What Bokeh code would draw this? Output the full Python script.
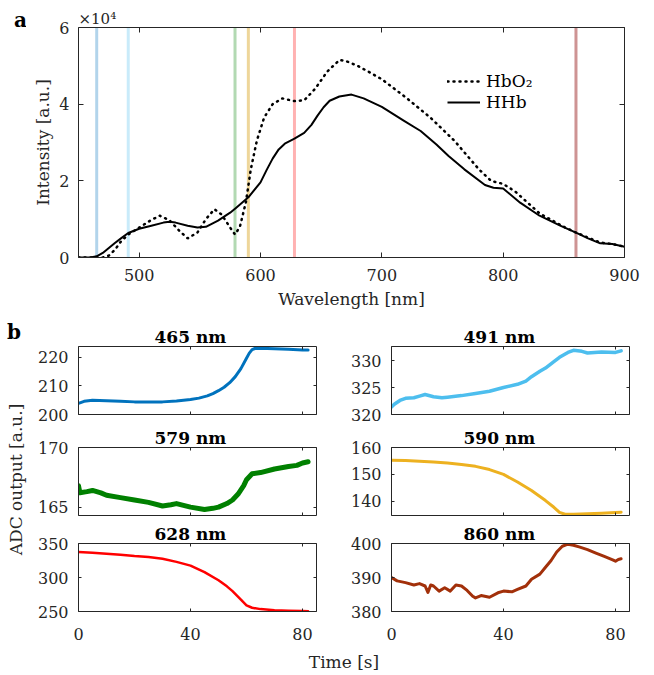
import math
from bokeh.plotting import figure
from bokeh.models import (Range1d, LinearAxis, FixedTicker, Span, Label, Legend, LegendItem)
from bokeh.layouts import column, row
from bokeh.embed import file_html
from bokeh.resources import INLINE

FONT = "DejaVu Serif"
AX = "#262626"

# ---------------- data: panel a ----------------
wl_hbo2 = [450, 470, 475, 480, 485, 491, 500, 510, 517, 525, 533, 540, 548, 555, 562, 568, 575, 579,
           583, 588, 592, 597, 603, 610, 618, 628, 636, 645, 655, 665, 670, 680, 690, 700, 720, 740,
           760, 780, 790, 800, 810, 830, 850, 860, 880, 890, 900]
hbo2 = [0, 0, 500, 2000, 4200, 6000, 7800, 9800, 10900, 9700, 7000, 5000, 6500, 10000, 12600, 11200,
        7800, 6000, 8000, 14500, 23000, 30500, 36500, 40000, 41500, 40800, 41000, 44000, 48500, 51500,
        51300, 50000, 48300, 46500, 41700, 36500, 30400, 23000, 20000, 19200, 17200, 11500, 8000, 6500,
        3900, 3500, 2800]

wl_hhb = [450, 460, 465, 470, 475, 480, 485, 491, 500, 510, 520, 525, 530, 540, 548, 555, 565, 575,
          580, 590, 600, 605, 610, 615, 620, 628, 636, 642, 647, 652, 657, 665, 675, 685, 700, 718,
          732, 745, 755, 768, 785, 792, 800, 814, 830, 847, 860, 870, 880, 890, 900]
hhb = [0, 0, 300, 1200, 2500, 3800, 5000, 6400, 7500, 8300, 9100, 9300, 9100, 8300, 7800, 8000, 9600,
       11700, 13000, 15700, 19600, 22800, 25800, 28200, 29700, 31000, 32500, 34600, 37000, 39200, 40900,
       42000, 42500, 41500, 39300, 35700, 33000, 29500, 26500, 23000, 18900, 18200, 18000, 14300, 10900,
       8300, 6500, 5000, 3700, 3500, 2800]

led_nm = [465, 491, 579, 590, 628, 860]
led_colors = ["#0072BD", "#4DBEEE", "#008000", "#EDB120", "#FF0000", "#A2300A"]
span_colors = ["#0072BD", "#4DBEEE", "#008000", "#D9A520", "#FF0000", "#9E2A2A"]
span_alpha = [0.3, 0.3, 0.3, 0.45, 0.3, 0.5]

x_ticks_a = [500, 600, 700, 800, 900]
y_ticks_a = [0, 20000, 40000, 60000]
y_tick_labels_a = ["0", "2", "4", "6"]

# ---------------- data: panel b ----------------
t465 = [0, 2, 5, 10, 15, 20, 25, 30, 35, 40, 43, 46, 48, 50, 52, 54, 56, 58, 60, 61, 62, 63, 65, 70, 75, 80, 82]
v465 = [203.9, 204.6, 205.0, 204.8, 204.6, 204.4, 204.4, 204.4, 204.7, 205.2, 205.7, 206.5, 207.3, 208.3,
        209.5, 211.1, 213.2, 216.0, 219.6, 221.4, 222.6, 223.0, 223.1, 222.9, 222.7, 222.5, 222.5]

t491 = [0, 1, 3, 5, 8, 10, 12, 15, 18, 20, 25, 30, 35, 40, 45, 48, 50, 53, 55, 58, 60, 63, 65, 68, 70, 75, 80, 82]
v491 = [321.4, 321.9, 322.6, 323.0, 323.1, 323.4, 323.7, 323.3, 323.1, 323.2, 323.5, 323.9, 324.3, 325.0,
        325.6, 326.2, 327.0, 328.0, 328.6, 329.8, 330.6, 331.5, 331.9, 331.7, 331.4, 331.6, 331.5, 331.8]

t579 = [0, 0.5, 3, 5, 8, 10, 15, 20, 25, 30, 33, 35, 40, 45, 48, 50, 53, 55, 57, 59, 60, 62, 65, 70, 75, 78, 80, 82]
v579 = [166.8, 166.2, 166.3, 166.4, 166.2, 166.0, 165.8, 165.6, 165.4, 165.1, 165.2, 165.3, 165.0, 164.8,
        164.9, 165.0, 165.3, 165.6, 166.1, 166.8, 167.3, 167.8, 167.9, 168.2, 168.4, 168.5, 168.7, 168.8]

t590 = [0, 5, 10, 15, 20, 25, 30, 35, 40, 45, 50, 55, 58, 60, 62, 65, 70, 75, 80, 82]
v590 = [155.3, 155.2, 154.9, 154.6, 154.2, 153.7, 153.0, 151.8, 150.0, 147.2, 144.0, 140.3, 137.8, 135.9,
        135.2, 135.2, 135.4, 135.6, 135.9, 136.0]

t628 = [0, 5, 10, 15, 20, 25, 30, 35, 40, 45, 50, 53, 55, 58, 60, 62, 65, 70, 75, 80, 82]
v628 = [337.5, 336.5, 335.0, 333.5, 331.5, 330.0, 327.5, 323.0, 317.5, 308.0, 296.0, 287.0, 280.0, 267.5,
        259.0, 255.5, 253.5, 252.0, 251.2, 250.6, 250.3]

t860 = [0, 2, 5, 8, 10, 12, 13, 14, 15, 17, 19, 21, 23, 25, 27, 29, 30, 32, 35, 38, 40, 43, 45, 48, 50,
        53, 55, 57, 59, 61, 63, 65, 67, 70, 73, 76, 79, 80, 81, 82]
v860 = [390.0, 389.0, 388.5, 387.8, 388.2, 387.5, 385.6, 387.8, 387.5, 386.0, 387.0, 386.0, 387.8, 387.5,
        386.2, 384.5, 384.0, 384.7, 384.2, 385.5, 386.0, 385.8, 386.5, 387.5, 389.5, 391.0, 393.0, 395.0,
        397.5, 399.2, 399.8, 399.5, 399.0, 398.2, 397.2, 396.2, 395.2, 394.8, 395.3, 395.5]

series_b = {
    465: (t465, v465, (200, 223.7), [200, 210, 220], 3.0),
    491: (t491, v491, (320, 332.6), [320, 325, 330], 3.5),
    579: (t579, v579, (164.3, 170), [165, 170], 5.0),
    590: (t590, v590, (134.75, 160), [140, 150, 160], 3.0),
    628: (t628, v628, (250, 350), [250, 300, 350], 2.5),
    860: (t860, v860, (380, 400), [380, 390, 400], 3.0),
}
x_ticks_b = [0, 40, 80]
x_range_b = (0, 85)


def style_axis(ax, ticks, show, standoff, tick_in, overrides=None):
    ax.ticker = FixedTicker(ticks=ticks)
    ax.axis_line_color = AX
    ax.axis_line_width = 1
    ax.major_tick_line_color = AX
    ax.major_tick_in = tick_in
    ax.major_tick_out = 0
    ax.minor_tick_line_color = None
    ax.minor_tick_in = 0
    ax.minor_tick_out = 0
    ax.major_label_text_font = FONT
    ax.major_label_text_color = AX
    ax.axis_label_text_font = FONT
    ax.axis_label_text_font_style = "normal"
    ax.axis_label_text_font_size = "17px"
    ax.axis_label_text_color = AX
    if show:
        ax.major_label_text_font_size = "16px"
        ax.major_label_standoff = standoff
        if overrides:
            ax.major_label_overrides = overrides
    else:
        ax.major_label_text_font_size = "0px"
        ax.major_label_standoff = 0
        ax.axis_label_standoff = 0
        ax.major_label_overrides = {t: "" for t in ticks}


def base_fig(**kw):
    f = figure(output_backend="svg", toolbar_location=None, **kw)
    f.grid.visible = False
    f.outline_line_color = None
    f.background_fill_color = "white"
    f.border_fill_color = "white"
    return f


def style_title(f, text, size, bold, align, offset, standoff, color):
    f.title.text = text
    f.title.align = align
    f.title.offset = offset
    f.title.standoff = standoff
    f.title.text_font = FONT
    f.title.text_font_size = size
    f.title.text_font_style = "bold" if bold else "normal"
    f.title.text_color = color


# ---------------- panel a ----------------
top = base_fig(frame_width=546, frame_height=230, x_range=Range1d(450, 900), y_range=Range1d(0, 60000),
               min_border_left=52, min_border_right=30, min_border_top=27, min_border_bottom=61)
style_axis(top.below[0], x_ticks_a, True, 11, 5)
top.below[0].axis_label = "Wavelength [nm]"
top.below[0].axis_label_standoff = 5
style_axis(top.left[0], y_ticks_a, True, 9, 5,
           overrides={v: s for v, s in zip(y_ticks_a, y_tick_labels_a)})
top.left[0].axis_label = "Intensity [a.u.]"
top.left[0].axis_label_standoff = 3
ax_above = LinearAxis()
top.add_layout(ax_above, "above")
style_axis(ax_above, x_ticks_a, False, 0, 5)
ax_right = LinearAxis()
top.add_layout(ax_right, "right")
style_axis(ax_right, y_ticks_a, False, 0, 5)
style_title(top, "×10⁴", "15px", False, "left", 0, 0, AX)

for nm, c, a in zip(led_nm, span_colors, span_alpha):
    top.add_layout(Span(location=nm, dimension="height", line_color=c, line_alpha=a,
                        line_width=3, level="underlay"))

r_hbo2 = top.line(wl_hbo2, hbo2, line_color="black", line_width=2.5, line_dash="1 5", line_cap="round")
r_hhb = top.line(wl_hhb, hhb, line_color="black", line_width=2, line_join="round")

legend = Legend(items=[LegendItem(label="HbO₂", renderers=[r_hbo2]),
                       LegendItem(label="HHb", renderers=[r_hhb])],
                location=(369, 145), padding=0, spacing=1, margin=0,
                label_height=20, glyph_height=20, glyph_width=33, label_standoff=6,
                border_line_color=None, background_fill_alpha=0,
                label_text_font=FONT, label_text_font_size="17px", label_text_color="black")
top.add_layout(legend)

alab = base_fig(width=26, height=318, x_range=Range1d(0, 26), y_range=Range1d(0, 318),
                x_axis_location=None, y_axis_location=None, min_border=0)
alab.add_layout(Label(x=20, y=299, text="a", text_font=FONT, text_font_style="bold",
                      text_font_size="20px", text_align="center", text_baseline="middle", text_color="black"))

# ---------------- panel b ----------------
row_borders = [(28, 10, False), (23, 5, False), (23, 30, True)]
left_order = [465, 579, 628]
right_order = [491, 590, 860]


def panel(nm, color, borders, left_b, right_b, title_off):
    top_b, bot_b, show_x = borders
    t, v, yr, yt, lw = series_b[nm]
    f = base_fig(frame_width=238, frame_height=68, x_range=Range1d(*x_range_b), y_range=Range1d(*yr),
                 min_border_left=left_b, min_border_right=right_b, min_border_top=top_b,
                 min_border_bottom=bot_b)
    style_axis(f.below[0], x_ticks_b, show_x, 16, 3)
    style_axis(f.left[0], yt, True, 10, 3)
    a1 = LinearAxis()
    f.add_layout(a1, "above")
    style_axis(a1, x_ticks_b, False, 0, 3)
    a2 = LinearAxis()
    f.add_layout(a2, "right")
    style_axis(a2, yt, False, 0, 3)
    f.line(t, v, line_color=color, line_width=lw, line_join="round", line_cap="round")
    style_title(f, f"{nm} nm", "17px", True, "left", title_off, 0, "black")
    return f


color_of = dict(zip(led_nm, led_colors))
left_figs = [panel(nm, color_of[nm], b, 44, 24, 76) for nm, b in zip(left_order, row_borders)]
right_figs = [panel(nm, color_of[nm], b, 51, 25, 72) for nm, b in zip(right_order, row_borders)]

ylab = base_fig(width=34, height=323, x_range=Range1d(0, 34), y_range=Range1d(0, 323),
                x_axis_location=None, y_axis_location=None, min_border=0)
ylab.add_layout(Label(x=13.5, y=322, text="b", text_font=FONT, text_font_style="bold",
                      text_font_size="20px", text_align="center", text_baseline="top", text_color="black"))
ylab.add_layout(Label(x=15, y=162, text="ADC output [a.u.]", angle=math.pi / 2, text_font=FONT,
                      text_font_size="17px", text_align="center", text_baseline="middle", text_color=AX))

tlab = base_fig(width=654, height=34, x_range=Range1d(0, 654), y_range=Range1d(0, 34),
                x_axis_location=None, y_axis_location=None, min_border=0)
tlab.add_layout(Label(x=343.5, y=15, text="Time [s]", text_font=FONT, text_font_size="17px",
                      text_align="center", text_baseline="middle", text_color=AX))

layout = column(row(column(alab), top), row(ylab, column(*left_figs), column(*right_figs)), tlab)

open("out.html", "w").write(file_html(layout, INLINE))
